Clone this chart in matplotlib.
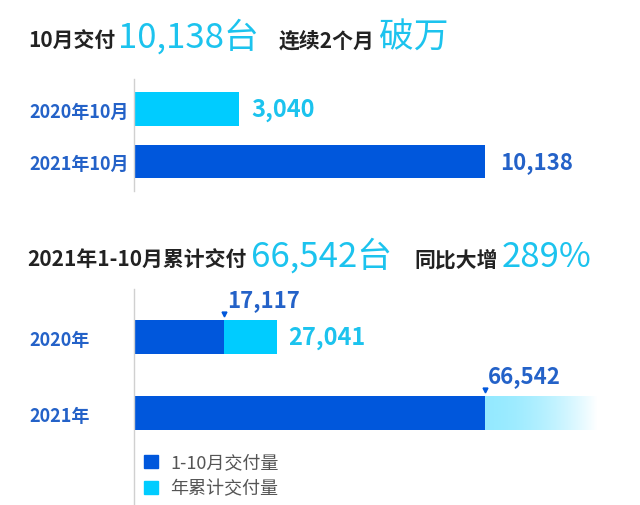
import numpy as np
import matplotlib
matplotlib.use("Agg")
import matplotlib.pyplot as plt
from matplotlib.patches import Patch

plt.rcParams['font.family'] = ['Noto Sans CJK SC', 'DejaVu Sans']

# 数据
month_labels = ['2020年10月', '2021年10月']
month_values = [3040, 10138]
year_labels = ['2020年', '2021年']
ytd_values = [17117, 66542]        # 1-10月交付量
year_total = [27041, None]         # 年累计交付量 (2021 未完)
legend_labels = ['1-10月交付量', '年累计交付量']

title1 = [('10月交付', 'dark'), ('10,138台', 'big'), ('连续2个月', 'dark'), ('破万', 'big')]
title2 = [('2021年1-10月累计交付', 'dark'), ('66,542台', 'big'), ('同比大增', 'dark'), ('289%', 'big')]

BLUE = '#0057DC'
CYAN = '#00CCFF'
TICK = '#2462C8'
DARK = '#222222'
CYAN_T = '#1CC3EE'

W, H = 640, 506
fig = plt.figure(figsize=(6.4, 5.06), dpi=100)


def px_axes(x0, y0, x1, y1):
    return fig.add_axes([x0 / W, 1 - y1 / H, (x1 - x0) / W, (y1 - y0) / H])


def style_axes(ax):
    for s in ['top', 'right', 'bottom']:
        ax.spines[s].set_visible(False)
    ax.spines['left'].set_color('#d0d0d0')
    ax.spines['left'].set_linewidth(1)
    ax.set_xticks([])
    ax.tick_params(axis='y', length=0, pad=105 * 72 / 100)
    for lab in ax.get_yticklabels():
        lab.set_ha('left')
        lab.set_color(TICK)
        lab.set_fontweight('bold')
        lab.set_fontsize(13)


def draw_title(parts, x0, y_base, gaps):
    fig.canvas.draw()
    r = fig.canvas.get_renderer()
    x = x0
    for (txt, kind), g in zip(parts, gaps):
        x += g
        if kind == 'big':
            t = fig.text(x / W, 1 - y_base / H, txt, fontsize=25, color=CYAN_T,
                         fontweight='medium', va='baseline', ha='left')
        else:
            t = fig.text(x / W, 1 - y_base / H, txt, fontsize=15, color=DARK,
                         fontweight='bold', va='baseline', ha='left')
        bb = t.get_window_extent(renderer=r)
        x = bb.x1


# 上图: 10月交付
ax1 = px_axes(134, 80, 620, 192)
y1 = [1, 0]
ax1.barh(y1, month_values, height=0.64, color=[CYAN, BLUE])
ax1.set_xlim(0, 14037)
ax1.set_ylim(-0.562, 1.571)
ax1.set_yticks(y1)
ax1.set_yticklabels(month_labels)
style_axes(ax1)
ax1.annotate(f'{month_values[0]:,}', (month_values[0], y1[0]), xytext=(9, 0),
             textcoords='offset points', va='center', ha='left',
             fontsize=17, color=CYAN_T, fontweight='semibold')
ax1.annotate(f'{month_values[1]:,}', (month_values[1], y1[1]), xytext=(11, 0),
             textcoords='offset points', va='center', ha='left',
             fontsize=16, color=TICK, fontweight='semibold')

# 下图: 累计交付
ax2 = px_axes(134, 290, 620, 505)
y2 = [1, 0]
bh = 0.45
ax2.barh(y2[0], year_total[0], height=bh, color=CYAN)
ax2.barh(y2, ytd_values, height=bh, color=BLUE)

# 2021 年累计未完成 -> 渐变
fade_end = ytd_values[1] * 1.32
t = np.linspace(0, 1, 256)
alpha = 0.42 * np.clip(1 - t ** 1.8, 0, 1)
grad = np.zeros((1, 256, 4))
grad[..., :3] = matplotlib.colors.to_rgb(CYAN)
grad[..., 3] = alpha
ax2.imshow(grad, extent=[ytd_values[1], fade_end, y2[1] - bh / 2, y2[1] + bh / 2],
           aspect='auto', interpolation='bilinear', zorder=1)

ax2.set_xlim(0, 92134)
ax2.set_ylim(-1.205, 1.642)
ax2.set_yticks(y2)
ax2.set_yticklabels(year_labels)
style_axes(ax2)

for v, y in zip(ytd_values, y2):
    ax2.plot(v, y + 0.31, marker='v', color=BLUE, markersize=3.5)
    ax2.annotate(f'{v:,}', (v, y + 0.50), xytext=(2, 0), textcoords='offset points',
                 va='center', ha='left', fontsize=16, color=TICK, fontweight='semibold')
ax2.annotate(f'{year_total[0]:,}', (year_total[0], y2[0]), xytext=(8, 0),
             textcoords='offset points', va='center', ha='left',
             fontsize=17, color=CYAN_T, fontweight='semibold')

handles = [Patch(color=BLUE), Patch(color=CYAN)]
ax2.legend(handles, legend_labels, loc='center left', bbox_to_anchor=(0.0206, 0.1326),
           frameon=False, handlelength=0.75, handleheight=0.75, handletextpad=0.7,
           labelspacing=0.45, borderpad=0, borderaxespad=0,
           prop={'size': 13}, labelcolor='#555555')

draw_title(title1, 28, 48, [0, 3, 20, 4])
draw_title(title2, 27, 267, [0, 5, 22, 4])

fig.savefig('out.png', dpi=100, facecolor='white')
